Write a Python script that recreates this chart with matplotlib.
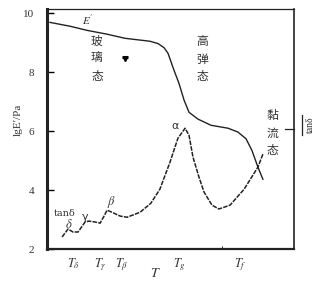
import matplotlib
matplotlib.use("Agg")
import matplotlib.pyplot as plt
from matplotlib.lines import Line2D

plt.rcParams['font.family'] = ['Liberation Serif', 'Noto Sans CJK SC', 'DejaVu Sans']
plt.rcParams['mathtext.fontset'] = 'stix'

# storage modulus curve lg E'
e_temp = [1.2, 9.3, 16.2, 24.3, 31.6, 41.7, 45.0, 47.4, 49.0, 51.4, 53.4, 55.5,
          57.5, 61.1, 66.4, 73.3, 77.3, 80.6, 83.0, 85.4, 87.4]
e_log = [9.69, 9.56, 9.42, 9.29, 9.15, 9.05, 8.97, 8.83, 8.64, 8.07, 7.63, 7.05,
         6.64, 6.41, 6.20, 6.10, 5.97, 5.74, 5.34, 4.78, 4.37]

# loss tangent curve (plotted on the same scale)
d_temp = [6.1, 8.5, 10.5, 12.6, 15.4, 17.0, 19.4, 21.5, 23.1, 24.3, 26.3, 29.6,
          32.4, 37.7, 42.0, 45.7, 49.8, 53.0, 55.9, 57.5, 59.1, 61.5, 63.6, 66.8,
          69.6, 74.1, 79.8, 85.4, 87.4]
d_val = [2.41, 2.68, 2.58, 2.58, 2.92, 2.95, 2.92, 2.88, 3.12, 3.32, 3.25, 3.12,
         3.08, 3.25, 3.55, 4.03, 4.95, 5.76, 6.10, 5.86, 5.12, 4.45, 3.93, 3.49,
         3.36, 3.49, 4.03, 4.78, 5.22]

t_ticks = [10.9, 21.5, 30.4, 53.8, 78.1]
t_labels = [r'$T_\delta$', r'$T_\gamma$', r'$T_\beta$', r'$T_g$', r'$T_f$']
y_ticks = [2, 4, 6, 8, 10]

fig = plt.figure(figsize=(3.22, 2.85), dpi=100)
ax = fig.add_axes([0.146, 0.126, 0.767, 0.842])

ax.plot(e_temp, e_log, color='#222222', lw=1.0)
ax.plot(d_temp, d_val, color='#222222', lw=1.1, linestyle=(0, (3, 0.8)))

ax.set_xlim(0, 100)
ax.set_ylim(2, 10.14)
ax.set_yticks(y_ticks)
ax.set_yticklabels([str(v) for v in y_ticks], fontsize=8, color='#333333')
ax.tick_params(axis='y', direction='in', length=5, width=1, pad=9)
ax.set_xticks(t_ticks)
ax.set_xticklabels(t_labels, fontsize=9, color='#333333')
ax.tick_params(axis='x', length=0, pad=5)
ax.set_xticks([70.9], minor=True)
ax.tick_params(axis='x', which='minor', direction='in', length=2)

ax.spines['left'].set_linewidth(2.2)
ax.spines['bottom'].set_linewidth(1.6)
ax.spines['top'].set_linewidth(0.9)
ax.spines['right'].set_linewidth(1.2)
for s in ax.spines.values():
    s.set_color('#222222')

ax.text(-0.117, 0.5375, "lgE′/Pa", transform=ax.transAxes, rotation=90,
        ha='center', va='center', fontsize=8, color='#333333')
ax.text(0.437, -0.075, '$T$', transform=ax.transAxes, ha='center', va='top',
        fontsize=10, color='#333333')

# right-hand tanδ axis marker
ax.text(1.065, 0.517, 'tanδ', transform=ax.transAxes, rotation=90,
        ha='center', va='center', fontsize=7, color='#333333')
ax.add_line(Line2D([1.032, 1.032], [0.475, 0.558], transform=ax.transAxes,
                   color='#222222', lw=0.9, clip_on=False))
ax.add_line(Line2D([0.964, 1.0], [0.5, 0.5], transform=ax.transAxes,
                   color='#222222', lw=0.9, clip_on=False))

cjk = ['Noto Sans CJK SC', 'DejaVu Sans']
ax.text(20.2, 8.46, "玻\n璃\n态", family=cjk, fontsize=8.5, ha='center',
        va='center', linespacing=1.45, color='#333333')
ax.text(62.8, 8.44, "高\n弹\n态", family=cjk, fontsize=8.5, ha='center',
        va='center', linespacing=1.45, color='#333333')
ax.text(91.1, 5.93, "黏\n流\n态", family=cjk, fontsize=8.5, ha='center',
        va='center', linespacing=1.45, color='#333333')

ax.text(16.6, 9.76, "$E'$", fontsize=8, ha='center', va='center', color='#333333')
ax.text(51.8, 6.17, "α", family=['DejaVu Sans'], fontsize=8, ha='center',
        va='center', color='#333333')
ax.text(7.3, 3.22, "tanδ", family=['DejaVu Serif'], fontsize=7, ha='center',
        va='center', color='#333333')
ax.text(8.9, 2.85, r"$\delta$", fontsize=9, ha='center', va='center', color='#333333')
ax.text(15.4, 3.08, "γ", family=['DejaVu Sans'], fontsize=8, ha='center',
        va='center', color='#333333')
ax.text(25.9, 3.59, r"$\beta$", fontsize=9, ha='center', va='center', color='#333333')

# small black mark near the glassy region
ax.plot([30.2, 32.6], [8.51, 8.51], color='black', lw=2.2, solid_capstyle='butt')
ax.plot([31.4], [8.45], marker='v', markersize=3, color='black')

fig.savefig('out.png', dpi=100)
